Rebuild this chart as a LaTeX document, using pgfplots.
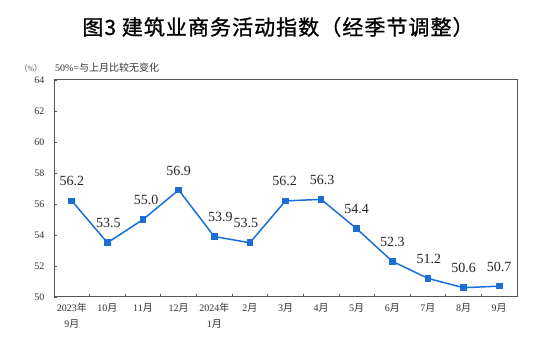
\documentclass[border=0pt]{standalone}
\usepackage{pgfplots}
\pgfplotsset{compat=1.18}
\usepackage{pgfplotstable}
\usepackage{fontspec}
\setmainfont{Liberation Serif}
\newfontfamily\cjk{Noto Sans CJK SC}
\newfontfamily\cjkt[FakeBold=1.0, LetterSpace=5]{Noto Sans CJK SC}
\definecolor{lineblue}{HTML}{1A6FD6}
\definecolor{axgray}{HTML}{555555}
\pgfplotstableread{
x y dx
0 56.2 0
1 53.5 1
2 55.0 3
3 56.9 0
4 53.9 6
5 53.5 -4
6 56.2 -1
7 56.3 1
8 54.4 0
9 52.3 0
10 51.2 1
11 50.6 0
12 50.7 0
}\datatable
\begin{document}
\begin{tikzpicture}
\useasboundingbox (0,0) rectangle (554pt,352pt);
\node[font=\cjkt\fontsize{21}{24}\selectfont, anchor=center] at (278pt,325pt) {图3\ 建筑业商务活动指数（经季节调整）};
\node[font=\fontsize{8}{10}\selectfont, anchor=west, text=axgray] at (16pt,284pt) {{\cjk （}\%{\cjk ）}};
\node[font=\fontsize{10}{12}\selectfont, anchor=west, inner sep=0pt, text=black!80] at (55pt,284pt) {50\%={\cjk 与上月比较无变化}};
\begin{axis}[
  at={(54pt,55pt)}, anchor=south west,
  scale only axis, width=463pt, height=217pt,
  xmin=-0.5, xmax=12.5, ymin=50, ymax=64,
  ytick={50,52,...,64},
  xtick={0,...,12},
  xticklabels={{2023{\cjk 年}\\9{\cjk 月}},{10{\cjk 月}},{11{\cjk 月}},{12{\cjk 月}},{2024{\cjk 年}\\1{\cjk 月}},{2{\cjk 月}},{3{\cjk 月}},{4{\cjk 月}},{5{\cjk 月}},{6{\cjk 月}},{7{\cjk 月}},{8{\cjk 月}},{9{\cjk 月}}},
  xticklabel style={align=center, font=\fontsize{10}{16}\selectfont, text=black!80, anchor=north, yshift=-3pt},
  yticklabel style={font=\fontsize{10}{12}\selectfont, text=black!80, xshift=-6pt},
  /pgf/number format/assume math mode=true,
  major x tick style={draw=none},
  minor xtick={0.5,1.5,...,11.5},
  minor tick length=3pt, major tick length=3pt,
  tick align=inside,
  xtick pos=bottom, ytick pos=left,
  tick style={axgray, line width=0.8pt},
  axis line style={axgray, line width=1pt},
  clip=false,
]
\addplot[color=lineblue, line width=1.5pt, mark=square*, mark size=2.6pt,
  mark options={solid, fill=lineblue},
  nodes near coords={\pgfmathprintnumber[fixed, fixed zerofill, precision=1]{\pgfplotspointmeta}},
  point meta=explicit,
  visualization depends on={\thisrow{dx} \as \dx},
  every node near coord/.append style={font=\fontsize{14}{16}\selectfont, text=black!85, anchor=south, inner sep=0pt, yshift=14pt, xshift=\dx pt},
] table[x=x, y=y, meta=y] {\datatable};
\end{axis}
\end{tikzpicture}
\end{document}
